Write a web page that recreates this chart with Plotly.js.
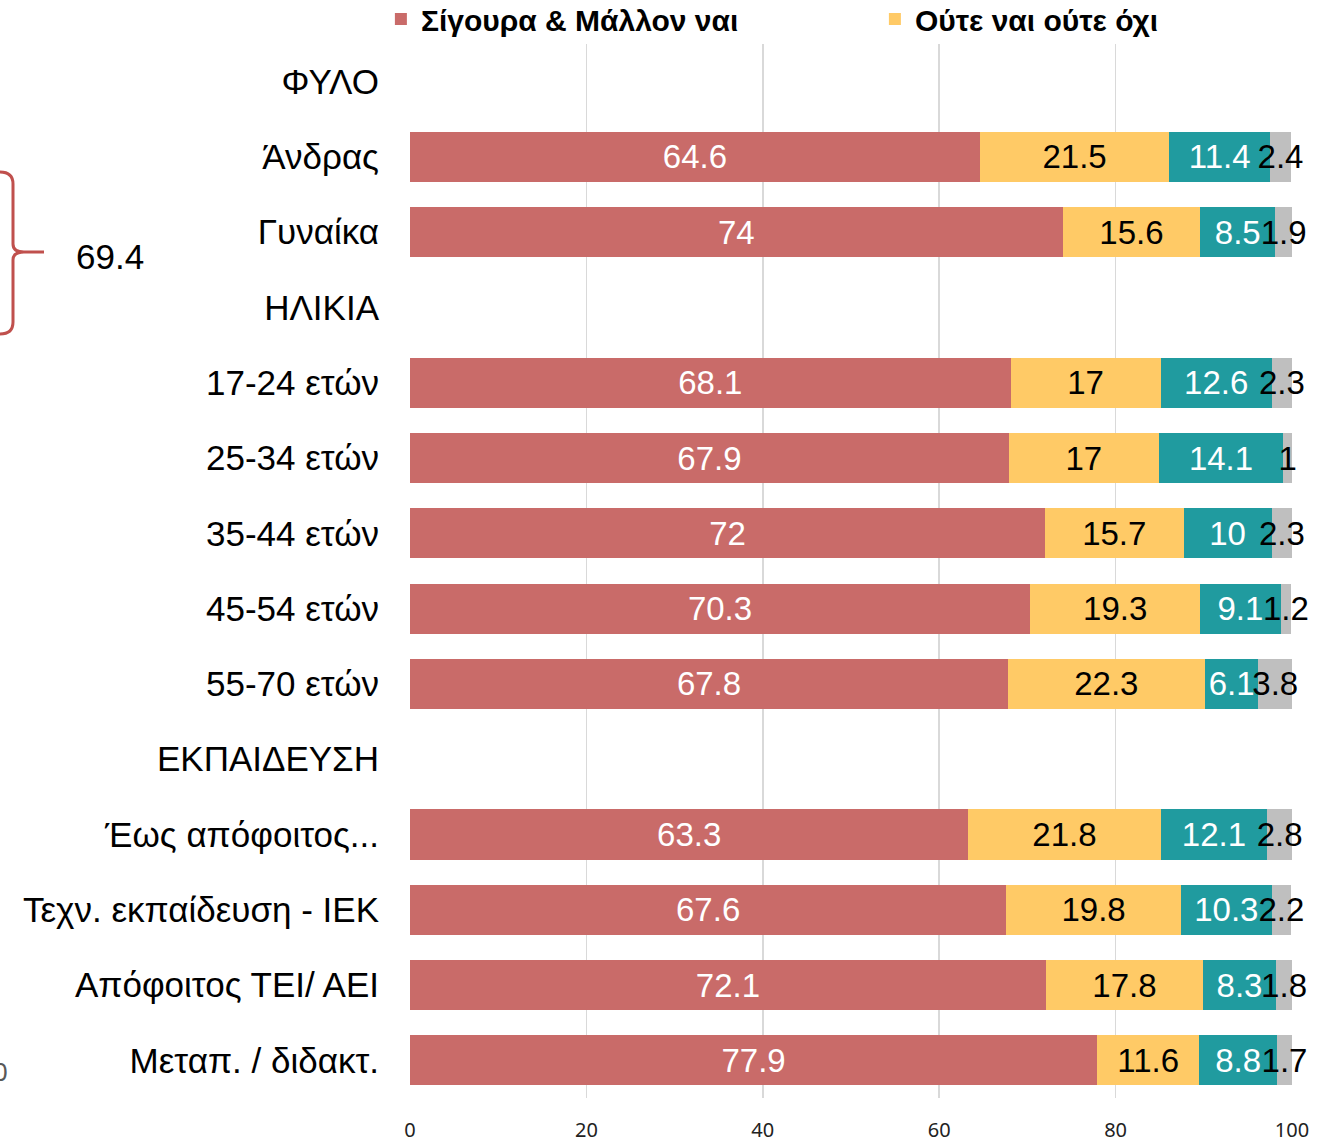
<!DOCTYPE html>
<html>
<head>
<meta charset="utf-8">
<script src="https://cdn.plot.ly/plotly-3.0.1.min.js"></script>
<style>html,body{margin:0;padding:0;background:#fff;}#chart{width:1332px;height:1146px;}</style>
</head>
<body>
<div id="chart"></div>
<script>
const categories = ["ΦΥΛΟ","Άνδρας","Γυναίκα","ΗΛΙΚΙΑ","17-24 ετών","25-34 ετών","35-44 ετών","45-54 ετών","55-70 ετών","ΕΚΠΑΙΔΕΥΣΗ","Έως απόφοιτος...","Τεχν. εκπαίδευση - ΙΕΚ","Απόφοιτος ΤΕΙ/ ΑΕΙ","Μεταπ. / διδακτ."];
const seriesNames = ["Σίγουρα & Μάλλον ναι","Ούτε ναι ούτε όχι","Σίγουρα & Μάλλον όχι","ΔΓ/ΔΑ"];
const yesValues     = [null,64.6,74,null,68.1,67.9,72,70.3,67.8,null,63.3,67.6,72.1,77.9];
const neutralValues = [null,21.5,15.6,null,17,17,15.7,19.3,22.3,null,21.8,19.8,17.8,11.6];
const noValues      = [null,11.4,8.5,null,12.6,14.1,10,9.1,6.1,null,12.1,10.3,8.3,8.8];
const dkValues      = [null,2.4,1.9,null,2.3,1,2.3,1.2,3.8,null,2.8,2.2,1.8,1.7];
const xTicks = [0,20,40,60,80,100];
const braceLabel = "69.4";
const cornerLabel = "0";

const colors = ["#C96B69","#FFCA66","#209B9F","#BFBFBF"];
const textColors = ["#FFFFFF","#000000","#FFFFFF","#000000"];
const allValues = [yesValues, neutralValues, noValues, dkValues];

const traces = allValues.map((vals, i) => ({
  type: 'bar',
  orientation: 'h',
  name: seriesNames[i],
  y: categories,
  x: vals,
  marker: {color: colors[i], line: {width: 0}},
  text: vals.map(v => v === null ? '' : String(v)),
  texttemplate: '%{text}',
  textposition: 'inside',
  insidetextanchor: 'middle',
  textangle: 0,
  constraintext: 'none',
  cliponaxis: false,
  insidetextfont: {family: 'Liberation Sans, Arial, sans-serif', size: 33, color: textColors[i]},
  showlegend: i < 2,
  hoverinfo: 'skip'
}));

const W = 1332, H = 1146;
const mL = 410, mR = 40, mT = 44, mB = 48;
const pw = W - mL - mR, ph = H - mT - mB;
const px = x => (x - mL) / pw;
const py = y => (H - mB - y) / ph;

// decorative brace on the left
const bracePath = [
  `M${px(0)},${py(172)}`,
  `Q${px(13)},${py(172)} ${px(13)},${py(184)}`,
  `L${px(13)},${py(244)}`,
  `Q${px(13)},${py(252)} ${px(24)},${py(252)}`,
  `L${px(44)},${py(252)}`,
  `L${px(24)},${py(252)}`,
  `Q${px(13)},${py(252)} ${px(13)},${py(260)}`,
  `L${px(13)},${py(322)}`,
  `Q${px(13)},${py(334)} ${px(0)},${py(334)}`
].join(' ');

const layout = {
  width: W, height: H,
  margin: {l: mL, r: mR, t: mT, b: mB, autoexpand: false},
  barmode: 'stack',
  bargap: 0.335,
  paper_bgcolor: '#ffffff',
  plot_bgcolor: '#ffffff',
  font: {family: 'Liberation Sans, Arial, sans-serif', color: '#000'},
  xaxis: {
    range: [0, 100],
    tickvals: xTicks,
    ticktext: xTicks.map(String),
    showgrid: true,
    gridcolor: '#D9D9D9',
    gridwidth: 1.5,
    zeroline: false,
    showline: false,
    ticks: '',
    tickfont: {family: 'Noto Sans, Open Sans, sans-serif', size: 20, color: '#222'},
    ticklabelstandoff: 18,
    fixedrange: true
  },
  yaxis: {
    type: 'category',
    categoryorder: 'array',
    categoryarray: categories,
    autorange: 'reversed',
    showgrid: false,
    zeroline: false,
    showline: false,
    ticks: '',
    tickfont: {family: 'Liberation Sans, Arial, sans-serif', size: 35, color: '#000'},
    ticklabelstandoff: 30,
    fixedrange: true
  },
  legend: {
    orientation: 'h',
    traceorder: 'normal',
    x: -0.033, xanchor: 'left',
    y: 1 + (mT - 19) / ph, yanchor: 'middle',
    font: {family: 'Liberation Sans Narrow, Arial Narrow, sans-serif', size: 30, color: '#000', weight: 'bold'},
    entrywidth: 449,
    entrywidthmode: 'pixels',
    bgcolor: 'rgba(0,0,0,0)',
    itemclick: false, itemdoubleclick: false,
    tracegroupgap: 0
  },
  shapes: [{
    type: 'path', xref: 'paper', yref: 'paper',
    path: bracePath,
    line: {color: '#C0504D', width: 3}
  }],
  annotations: [
    {xref: 'paper', yref: 'paper', x: px(110), y: py(256), text: braceLabel, showarrow: false,
     xanchor: 'center', yanchor: 'middle', font: {family: 'Liberation Sans, Arial, sans-serif', size: 35, color: '#000'}},
    {xref: 'paper', yref: 'paper', x: px(0), y: py(1071), text: cornerLabel, showarrow: false,
     xanchor: 'center', yanchor: 'middle', font: {family: 'Noto Sans, Open Sans, sans-serif', size: 26, color: '#595959'}}
  ]
};

Plotly.newPlot('chart', traces, layout, {displayModeBar: false, staticPlot: true});
</script>
</body>
</html>
